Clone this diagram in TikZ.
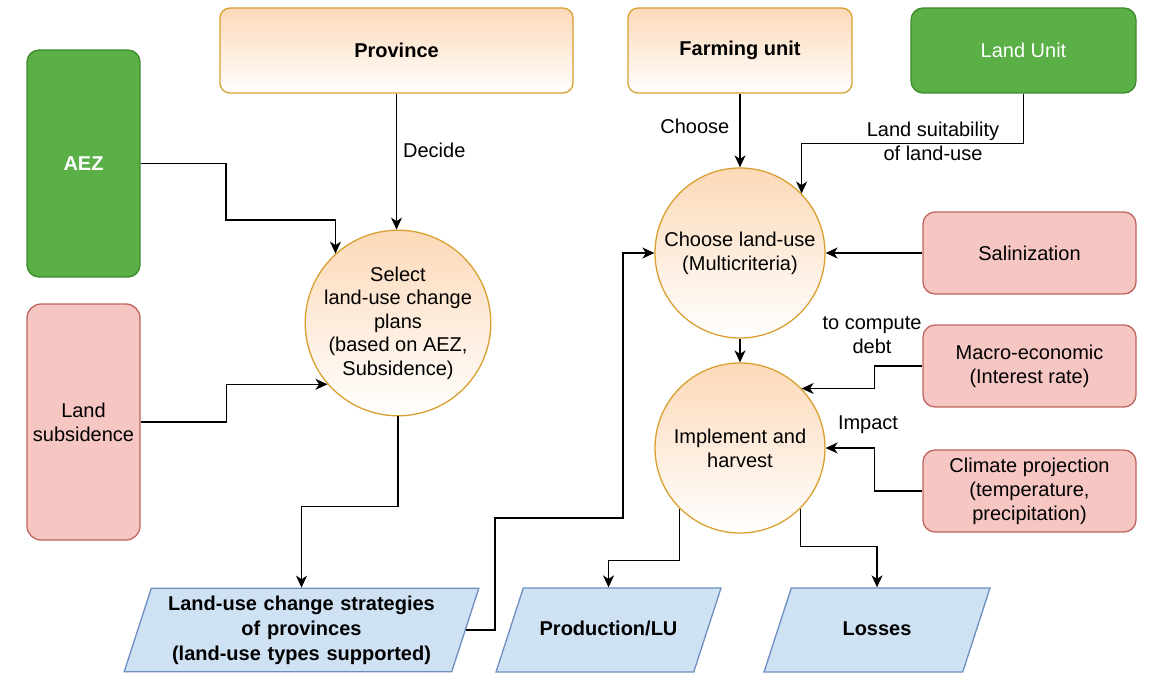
\documentclass[tikz,border=0pt]{standalone}
\usepackage{fontspec}
\setmainfont{Liberation Sans}
\usetikzlibrary{shapes.geometric,arrows.meta}
\definecolor{orangeline}{HTML}{D9A030}
\definecolor{orangefill}{HTML}{FCD9B8}
\definecolor{greenfill}{HTML}{5AAF46}
\definecolor{greenline}{HTML}{3F8A30}
\definecolor{redfill}{HTML}{F6C6C3}
\definecolor{redline}{HTML}{C0645E}
\definecolor{bluefill}{HTML}{CFE2F4}
\definecolor{blueline}{HTML}{6C8EBF}
\begin{document}
\begin{tikzpicture}[
            x=0.5pt, y=-0.5pt,
            every node/.style={align=center, inner sep=1pt, font=\fontsize{10}{12}\selectfont},
            actor/.style={draw=orangeline, line width=0.65pt, rounded corners=5pt,
                top color=orangefill, bottom color=white, font=\fontsize{10}{12}\selectfont\bfseries,
                minimum height=42.5pt},
            landbox/.style={draw=greenline, line width=0.65pt, fill=greenfill, text=white,
                rounded corners=6pt},
            driver/.style={draw=redline, line width=0.65pt, fill=redfill, rounded corners=6pt,
                minimum width=106.5pt, minimum height=41pt},
            process/.style={circle, draw=orangeline, line width=0.65pt, top color=orangefill,
                bottom color=white, inner sep=0pt},
            output/.style={trapezium, trapezium left angle=72, trapezium right angle=108,
                draw=blueline, line width=0.65pt, fill=bluefill, inner xsep=0pt,
                font=\fontsize{10}{12.5}\selectfont\bfseries},
            oneline/.style={text height=7.5pt, text depth=2pt, inner ysep=16.25pt},
            >={Stealth[length=6pt,width=5.5pt,inset=1.8pt]},
            ->, line width=0.65pt
            ]
            \useasboundingbox (0,0) rectangle (1154,674);
            % boxes on top
            \node[actor, minimum width=176.5pt] (prov) at (396.5,50.5) {Province};
            \node[actor, minimum width=112pt] (farm) at (740,50.5) {Farming unit};
            \node[landbox, minimum width=112.5pt, minimum height=42.5pt] (lu) at (1023.5,50.5) {Land Unit};
            % left column
            \node[landbox, minimum width=56.5pt, minimum height=113.5pt, font=\fontsize{10}{12}\selectfont\bfseries] (aez) at (83.5,163.5) {AEZ};
            \node[driver, minimum width=56.5pt, minimum height=118pt, rounded corners=7pt] (sub) at (83.5,422) {Land\\subsidence};
            % processes
            \node[process, minimum size=86pt, font=\fontsize{10}{11.75}\selectfont] (sel) at (398,323) {Select\\land-use change\\plans\\(based on AEZ,\\Subsidence)};
            \node[process, minimum size=85pt] (choose) at (740,253) {Choose land-use\\(Multicriteria)};
            \node[process, minimum size=85pt] (impl) at (740,448) {Implement and\\harvest};
            % right column
            \node[driver] (sal) at (1029.5,253) {Salinization};
            \node[driver] (mac) at (1029.5,366) {Macro-economic\\(Interest rate)};
            \node[driver] (clim) at (1029.5,491) {Climate projection\\(temperature,\\precipitation)};
            % outputs
            \node[output, text width=150.2pt, inner ysep=3.7pt] (strat) at (301.5,630) {Land-use change strategies\\of provinces\\(land-use types supported)};
            \node[output, oneline, text width=85.2pt] (prod) at (608.5,630) {Production/LU};
            \node[output, oneline, text width=85.7pt] (loss) at (877,630) {Losses};
            % connectors
            \draw (prov.south) -- node[pos=0.42, right=2pt] {Decide} (prov.south |- sel.north);
            \draw (aez.east) -| (226,220) -| (sel.132);
            \draw (sub.east) -- ++(86,0) |- (sel.221);
            \draw (sel.south) -- ++(0,90) -| (strat.north);
            \draw (strat.east) -- ++(29,0) |- (623,518) |- (choose.west);
            \draw (farm.south) -- node[pos=0.45, left=4pt] {Choose} (choose.north);
            \draw (lu.south) -- ++(0,50) -| (choose.44);
            \node (suit) at (933,141) {Land suitability\\of land-use};
            \draw (sal.west) -- (choose.east);
            \draw (choose.south) -- (impl.north);
            \draw (mac.west) -- ++(-48,0) |- (impl.44);
            \node (debt) at (872,335) {to compute\\debt};
            \draw (clim.west) -- ++(-48,0) |- (impl.east);
            \node (impact) at (868,425) {Impact};
            \draw (impl.225) -- ++(0,52) -| (prod.north);
            \draw (impl.315) -- ++(0,38) -| (loss.north);
\end{tikzpicture}
\end{document}
